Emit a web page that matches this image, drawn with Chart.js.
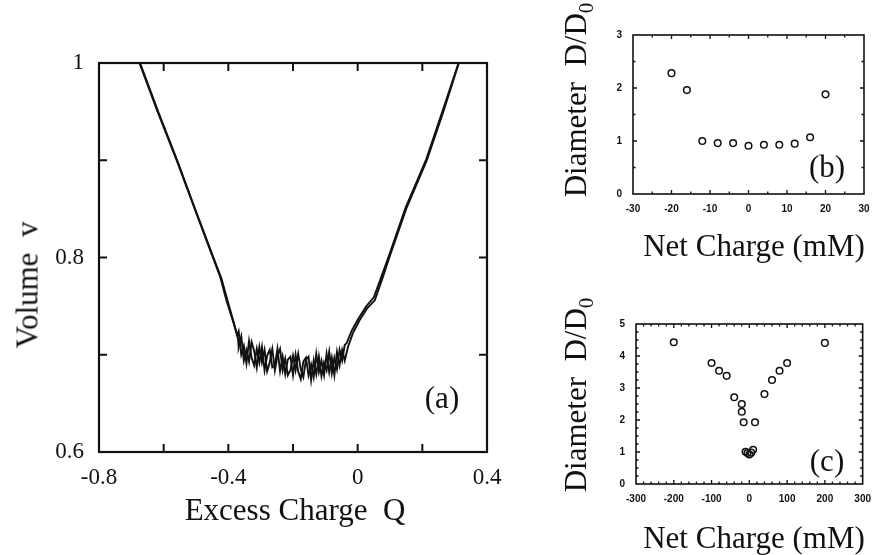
<!DOCTYPE html>
<html>
<head>
    <meta charset="UTF-8">
    <title>Volume and diameter vs charge</title>
    <script src="https://cdn.jsdelivr.net/npm/chart.js@4.4.0/dist/chart.umd.min.js"></script>
    <style>
        body { margin: 0; background: #fff; }
        #page { position: relative; width: 872px; height: 555px; overflow: hidden; font-family: "Liberation Serif", "DejaVu Serif", serif; color: #111; }
        .box { position: absolute; }
        .lbl { position: absolute; white-space: nowrap; font-size: 31px; line-height: 1; }
        .rot { transform: translate(-50%, -50%) rotate(-90deg); }
        .ctr { transform: translate(-50%, -50%); }
        sub { font-size: 21px; vertical-align: -7px; }
    </style>
</head>
<body>
<div id="page">
    <div class="box" style="left:0;top:0"><canvas id="chartA" width="530" height="500"></canvas></div>
    <div class="box" style="left:560px;top:0"><canvas id="chartB" width="312" height="230"></canvas></div>
    <div class="box" style="left:560px;top:290px"><canvas id="chartC" width="312" height="230"></canvas></div>

    <div class="lbl rot" style="left:27px;top:285px">Volume&nbsp; v</div>
    <div class="lbl ctr" style="left:295px;top:509px">Excess Charge&nbsp; Q</div>
    <div class="lbl ctr" style="left:442px;top:397px">(a)</div>

    <div class="lbl rot" style="left:578px;top:100px">Diameter&nbsp; D/D<sub>0</sub></div>
    <div class="lbl ctr" style="left:754px;top:245px">Net Charge (mM)</div>
    <div class="lbl ctr" style="left:827px;top:166px">(b)</div>

    <div class="lbl rot" style="left:578px;top:395px">Diameter&nbsp; D/D<sub>0</sub></div>
    <div class="lbl ctr" style="left:754px;top:537px">Net Charge (mM)</div>
    <div class="lbl ctr" style="left:827px;top:460px">(c)</div>
</div>

<script>
    // (a) volume vs excess charge, two overlapping sweeps
    const leftQ1 = [-0.675, -0.620, -0.560, -0.505, -0.449, -0.425, -0.406, -0.387, -0.372];
    const leftV1 = [1.000, 0.951, 0.900, 0.851, 0.801, 0.780, 0.756, 0.736, 0.720];
    const leftQ2 = [-0.673, -0.617, -0.557, -0.503, -0.446, -0.421, -0.401, -0.383, -0.370];
    const leftV2 = [1.000, 0.950, 0.899, 0.850, 0.800, 0.778, 0.754, 0.733, 0.716];

    const bandQ = [-0.368, -0.360, -0.352, -0.344, -0.336, -0.328, -0.320, -0.312, -0.304, -0.296,
        -0.288, -0.280, -0.272, -0.264, -0.256, -0.248, -0.240, -0.232, -0.224, -0.216,
        -0.208, -0.200, -0.192, -0.184, -0.176, -0.168, -0.160, -0.152, -0.144, -0.136,
        -0.128, -0.120, -0.112, -0.104, -0.096, -0.088, -0.080, -0.072, -0.064, -0.056,
        -0.048, -0.040];
    const bandV1 = [0.724, 0.700, 0.709, 0.691, 0.714, 0.697, 0.689, 0.706, 0.692, 0.708,
        0.684, 0.699, 0.705, 0.687, 0.689, 0.706, 0.683, 0.698, 0.680, 0.695,
        0.698, 0.679, 0.700, 0.683, 0.675, 0.693, 0.697, 0.679, 0.690, 0.677,
        0.701, 0.682, 0.694, 0.679, 0.701, 0.682, 0.697, 0.679, 0.703, 0.689,
        0.705, 0.694];
    const bandV2 = [0.708, 0.719, 0.694, 0.705, 0.693, 0.713, 0.704, 0.687, 0.708, 0.692,
        0.705, 0.683, 0.692, 0.706, 0.684, 0.699, 0.706, 0.684, 0.696, 0.679,
        0.684, 0.699, 0.684, 0.701, 0.685, 0.677, 0.695, 0.698, 0.674, 0.694,
        0.680, 0.698, 0.678, 0.692, 0.684, 0.703, 0.681, 0.697, 0.685, 0.705,
        0.694, 0.710];

    const rightQ1 = [-0.030, -0.015, 0.005, 0.030, 0.053, 0.075, 0.099, 0.150, 0.214, 0.265, 0.313];
    const rightV1 = [0.708, 0.722, 0.735, 0.748, 0.756, 0.777, 0.801, 0.850, 0.900, 0.950, 1.000];
    const rightQ2 = [-0.034, -0.018, 0.002, 0.027, 0.050, 0.072, 0.097, 0.148, 0.212, 0.263, 0.312];
    const rightV2 = [0.712, 0.725, 0.737, 0.750, 0.759, 0.779, 0.802, 0.851, 0.901, 0.951, 1.000];

    // (b) diameter vs net charge, small range
    const chargeB = [-20, -16, -12, -8, -4, 0, 4, 8, 12, 16, 20];
    const diamB = [2.28, 1.96, 1.00, 0.96, 0.96, 0.91, 0.93, 0.93, 0.95, 1.07, 1.88];

    // (c) diameter vs net charge, wide range
    const chargeC = [-200, -100, -80, -60, -40, -20, -20, -15, -10, -5, 0, 5, 10, 15, 40, 60, 80, 100, 200];
    const diamC = [4.43, 3.78, 3.54, 3.38, 2.71, 2.50, 2.26, 1.93, 1.01, 0.97, 0.92, 0.98, 1.07, 1.93, 2.81, 3.25, 3.54, 3.78, 4.41];

    const INK = '#111';

    function pts(xs, ys) {
        return xs.map((x, i) => ({ x: x, y: ys[i] }));
    }

    // frame + inward tick marks
    const frameTicks = {
        id: 'frameTicks',
        afterDatasetsDraw(chart, args, opts) {
            const ctx = chart.ctx;
            const a = chart.chartArea;
            const sx = chart.scales.x, sy = chart.scales.y;
            ctx.save();
            ctx.strokeStyle = INK;
            ctx.lineWidth = opts.frame;
            ctx.strokeRect(a.left, a.top, a.right - a.left, a.bottom - a.top);
            ctx.lineWidth = opts.tick;
            ctx.beginPath();
            let n = Math.round((sx.max - sx.min) / opts.xStep);
            for (let i = 1; i < n; i++) {
                const v = sx.min + i * opts.xStep;
                const major = Math.abs(v / opts.xMajor - Math.round(v / opts.xMajor)) < 1e-6;
                const len = major ? opts.big : opts.small;
                const px = sx.getPixelForValue(v);
                ctx.moveTo(px, a.bottom); ctx.lineTo(px, a.bottom - len);
                ctx.moveTo(px, a.top); ctx.lineTo(px, a.top + len);
            }
            n = Math.round((sy.max - sy.min) / opts.yStep);
            for (let i = 1; i < n; i++) {
                const v = sy.min + i * opts.yStep;
                const major = Math.abs(v / opts.yMajor - Math.round(v / opts.yMajor)) < 1e-6;
                const len = major ? opts.big : opts.small;
                const py = sy.getPixelForValue(v);
                ctx.moveTo(a.left, py); ctx.lineTo(a.left + len, py);
                ctx.moveTo(a.right, py); ctx.lineTo(a.right - len, py);
            }
            ctx.stroke();
            ctx.restore();
        }
    };

    function fixW(w) { return s => { s.width = w; }; }
    function fixH(h) { return s => { s.height = h; }; }
    function tidy(v) { return String(Math.round(v * 10) / 10); }

    const lineStyle = { showLine: true, borderColor: INK, borderWidth: 1.9, pointRadius: 0, tension: 0, fill: false };

    new Chart(document.getElementById('chartA'), {
        type: 'scatter',
        data: {
            datasets: [
                Object.assign({ data: pts(leftQ1.concat(bandQ, rightQ1), leftV1.concat(bandV1, rightV1)) }, lineStyle),
                Object.assign({ data: pts(leftQ2.concat(bandQ, rightQ2), leftV2.concat(bandV2, rightV2)) }, lineStyle)
            ]
        },
        options: {
            responsive: false,
            animation: false,
            layout: { padding: { left: 0, top: 63, right: 43, bottom: 0 } },
            plugins: {
                legend: { display: false },
                tooltip: { enabled: false },
                frameTicks: { frame: 2.2, tick: 2, big: 8, small: 8, xStep: 0.2, xMajor: 0.2, yStep: 0.1, yMajor: 0.1 }
            },
            scales: {
                x: {
                    type: 'linear', min: -0.8, max: 0.4,
                    grid: { display: false }, border: { display: false },
                    ticks: { stepSize: 0.4, padding: 4, color: INK, maxRotation: 0, font: { family: 'Liberation Serif', size: 23 }, callback: tidy },
                    afterFit: fixH(48)
                },
                y: {
                    type: 'linear', min: 0.6, max: 1,
                    grid: { display: false }, border: { display: false },
                    ticks: { stepSize: 0.2, padding: 7, color: INK, font: { family: 'Liberation Serif', size: 23 }, callback: tidy },
                    afterFit: fixW(99)
                }
            }
        },
        plugins: [frameTicks]
    });

    const dotStyle = { showLine: false, pointRadius: 3.3, pointBorderWidth: 1.5, pointBorderColor: INK, pointBackgroundColor: 'rgba(0,0,0,0)' };
    const smallTick = { family: '"Liberation Sans Narrow", "Liberation Sans", sans-serif', size: 10, weight: 'bold' };

    function diamChart(id, xs, ys, xMin, xMax, xStep, yMax, pad, frameOpts) {
        return new Chart(document.getElementById(id), {
            type: 'scatter',
            data: { datasets: [Object.assign({ data: pts(xs, ys) }, dotStyle)] },
            options: {
                responsive: false,
                animation: false,
                layout: { padding: pad },
                plugins: { legend: { display: false }, tooltip: { enabled: false }, frameTicks: frameOpts },
                scales: {
                    x: {
                        type: 'linear', min: xMin, max: xMax,
                        grid: { display: false }, border: { display: false },
                        ticks: { stepSize: xStep, padding: 1, color: INK, maxRotation: 0, autoSkip: false, font: smallTick },
                        afterFit: fixH(36)
                    },
                    y: {
                        type: 'linear', min: 0, max: yMax,
                        grid: { display: false }, border: { display: false },
                        ticks: { stepSize: 1, padding: 3, color: INK, font: smallTick },
                        afterFit: fixW(pad.left0)
                    }
                }
            },
            plugins: [frameTicks]
        });
    }

    diamChart('chartB', chargeB, diamB, -30, 30, 10, 3,
        { left: 0, top: 35, right: 8, bottom: 0, left0: 73 },
        { frame: 1.6, tick: 1.3, big: 4, small: 2.5, xStep: 5, xMajor: 10, yStep: 0.5, yMajor: 1 });

    diamChart('chartC', chargeC, diamC, -300, 300, 100, 5,
        { left: 0, top: 34, right: 7, bottom: 0, left0: 76 },
        { frame: 1.6, tick: 1.3, big: 4, small: 2.5, xStep: 20, xMajor: 100, yStep: 0.25, yMajor: 1 });
</script>
</body>
</html>
